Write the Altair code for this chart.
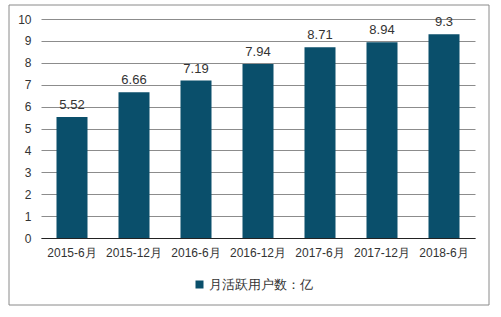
import altair as alt
import pandas as pd

categories = ["2015-6月", "2015-12月", "2016-6月", "2016-12月", "2017-6月", "2017-12月", "2018-6月"]
values = [5.52, 6.66, 7.19, 7.94, 8.71, 8.94, 9.3]
series_name = "月活跃用户数：亿"
y_ticks = list(range(0, 11))

df = pd.DataFrame({"cat": categories, "val": values, "series": [series_name] * len(categories)})
df["label"] = [f"{v:g}" for v in values]

FONT = "Liberation Sans"
BAR = "#0A4F6B"

base = alt.Chart(df)

x = alt.X("cat:N", sort=categories, title=None,
          scale=alt.Scale(paddingInner=0.5, paddingOuter=0.25),
          axis=alt.Axis(labelAngle=0, labelFont=FONT, labelFontSize=12, labelColor="#333333",
                        labelPadding=9, ticks=False, domainColor="#222222", domainWidth=1.2,
                        grid=False))
y = alt.Y("val:Q", title=None,
          scale=alt.Scale(domain=[0, 10], nice=False),
          axis=alt.Axis(values=y_ticks, tickCount=20, labelOverlap=False, format="d",
                        labelFont=FONT, labelFontSize=12, labelColor="#333333",
                        labelPadding=10, ticks=False, domain=False,
                        gridColor="#8c8c8c", gridWidth=1))

bars = base.mark_bar(color=BAR).encode(
    x=x, y=y,
    color=alt.Color("series:N", scale=alt.Scale(range=[BAR]), title=None,
                    legend=alt.Legend(orient="none", legendX=152, legendY=259,
                                      symbolType="square", symbolSize=64,
                                      symbolStrokeWidth=0, labelFont=FONT,
                                      labelFontSize=13, labelColor="#333333",
                                      labelOffset=3)),
)

labels = base.mark_text(font=FONT, fontSize=13, color="#333333", dy=-12).encode(
    x=x,
    y=y,
    text="label:N",
)

border = alt.Chart(pd.DataFrame({"a": [0]})).mark_rect(
    fill=None, stroke="#8a8a8a", strokeWidth=1, clip=False
).encode(
    x=alt.value(-32), x2=alt.value(448), y=alt.value(-14), y2=alt.value(286)
)

chart = alt.layer(border, bars, labels).properties(
    width=434, height=219,
    autosize=alt.AutoSizeParams(type="none"),
    padding={"left": 41, "top": 19, "right": 26, "bottom": 79},
    background="white",
).configure_view(stroke=None)

chart.save("out.html", embed_options={"renderer": "svg", "actions": False})
